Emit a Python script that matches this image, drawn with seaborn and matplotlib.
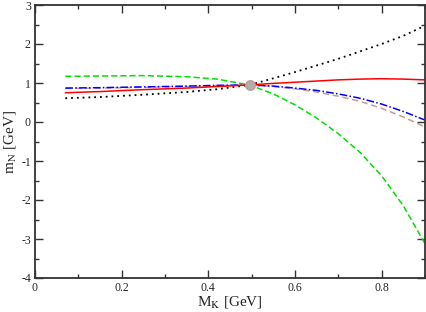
import pandas as pd
import matplotlib
matplotlib.use("Agg")
import matplotlib.pyplot as plt
from matplotlib.ticker import MultipleLocator
import seaborn as sns

# values
mk = [0.07, 0.15, 0.25, 0.35, 0.42, 0.495, 0.55, 0.60, 0.65, 0.70, 0.75, 0.80, 0.85, 0.90]
mn_green = [1.17, 1.18, 1.19, 1.16, 1.10, 0.95, 0.72, 0.44, 0.10, -0.30, -0.78, -1.38, -2.15, -3.12]
mn_black = [0.61, 0.64, 0.70, 0.77, 0.84, 0.95, 1.12, 1.28, 1.45, 1.62, 1.81, 2.00, 2.21, 2.47]
mn_red = [0.75, 0.78, 0.83, 0.87, 0.91, 0.95, 0.99, 1.02, 1.05, 1.08, 1.10, 1.11, 1.10, 1.08]
mn_blue = [0.87, 0.88, 0.90, 0.92, 0.94, 0.95, 0.92, 0.87, 0.81, 0.72, 0.61, 0.46, 0.27, 0.05]
mn_brown = [0.86, 0.87, 0.89, 0.91, 0.93, 0.95, 0.91, 0.85, 0.77, 0.66, 0.53, 0.35, 0.13, -0.13]

# physical point
phys_mk = [0.495]
phys_mn = [0.95]

sns.set_style("ticks")
plt.rcParams['font.family'] = ['Liberation Serif', 'DejaVu Serif']
plt.rcParams['mathtext.fontset'] = 'stix'

df = pd.DataFrame({"mk": mk, "green": mn_green, "black": mn_black,
                   "red": mn_red, "blue": mn_blue, "brown": mn_brown})

fig = plt.figure(figsize=(4.26, 3.12), dpi=100)
ax = fig.add_axes([35/426, 34/312, 390/426, 273/312])

#curves
sns.lineplot(data=df, x="mk", y="brown", ax=ax, color="#c49a9a", lw=1.1,
             linestyle=(0, (4, 2.5)))
sns.lineplot(data=df, x="mk", y="blue", ax=ax, color="#0000ff", lw=1.1,
             linestyle=(0, (5, 1.5, 1, 1.5)))
sns.lineplot(data=df, x="mk", y="green", ax=ax, color="#00e000", lw=1.1,
             linestyle=(0, (4, 2)))
sns.lineplot(data=df, x="mk", y="black", ax=ax, color="black", lw=1.3,
             linestyle=(0, (1, 2.2)))
sns.lineplot(data=df, x="mk", y="red", ax=ax, color="#ff0000", lw=1.1)

sns.scatterplot(x=phys_mk, y=phys_mn, ax=ax, s=45, color="#b0b0b0",
                edgecolor="#c49a9a", linewidth=1.2, zorder=5)

ax.set_xlim(0, 0.9)
ax.set_ylim(-4, 3)
ax.xaxis.set_major_locator(MultipleLocator(0.2))
ax.xaxis.set_minor_locator(MultipleLocator(0.1))
ax.yaxis.set_major_locator(MultipleLocator(1))
ax.yaxis.set_minor_locator(MultipleLocator(0.5))
ax.set_xticks([0, 0.2, 0.4, 0.6, 0.8])
ax.set_xticklabels(["0", "0.2", "0.4", "0.6", "0.8"])
ax.set_yticks([-4, -3, -2, -1, 0, 1, 2, 3])
ax.set_yticklabels(["-4", "-3", "-2", "-1", "0", "1", "2", "3"])

ax.tick_params(which="both", direction="in", top=True, right=True,
               labelsize=8.5, width=1, color="#333333", pad=3)
ax.tick_params(which="major", length=6)
ax.tick_params(which="minor", length=3)
for s in ax.spines.values():
    s.set_linewidth(1.3)
    s.set_color("#333333")

ax.set_xlabel("M$_\\mathrm{K}$ [GeV]", fontsize=11, labelpad=0)
ax.set_ylabel("m$_\\mathrm{N}$ [GeV]", fontsize=11, labelpad=2)

fig.savefig("out.png", dpi=100)
